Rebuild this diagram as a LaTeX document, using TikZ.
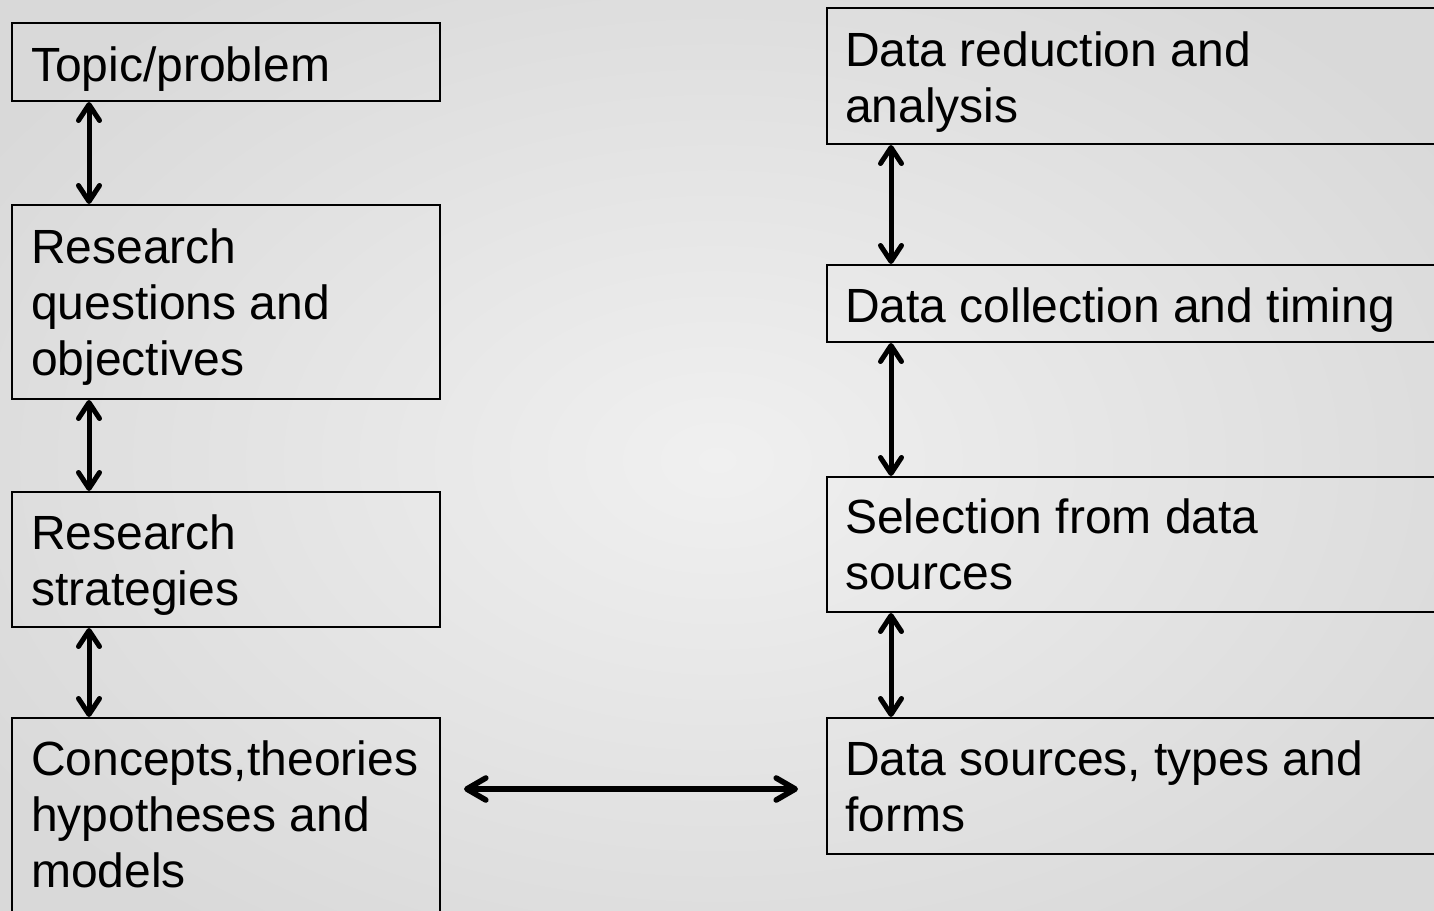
\documentclass[tikz,border=0pt]{standalone}
\usepackage{fontspec}
\setmainfont{Liberation Sans}
\usetikzlibrary{arrows.meta}
\definecolor{bgin}{HTML}{F0F0F0}
\definecolor{bgout}{HTML}{D9D9D9}
\tikzset{
  vtip/.tip={Straight Barb[length=16pt,width=21pt,line cap=round,line join=round]},
  htip/.tip={Straight Barb[length=19pt,width=22pt,line cap=round,line join=round]}
}
\begin{document}
\begin{tikzpicture}[x=1pt,y=-1pt,
  box/.style={draw=black, line width=2.8pt, anchor=north west, inner sep=0pt, outer sep=0pt},
  lbox/.style={box, minimum width=428pt},
  rbox/.style={box, minimum width=640pt},
  lbl/.style={anchor=base west, inner sep=0pt, align=left, font=\fontsize{48}{56}\selectfont},
  varr/.style={line width=5pt, line cap=round, vtip-vtip},
  harr/.style={line width=5.6pt, line cap=round, htip-htip}]
\useasboundingbox (0,0) rectangle (1434,910);
\clip (0,0) rectangle (1434,910);
\shade[inner color=bgin, outer color=bgout] (-150,-120) rectangle (1584,1040);
% left column
\node[lbox, minimum height=78pt] (t1) at (12,23) {};
\node[lbox, minimum height=194pt] (t2) at (12,205) {};
\node[lbox, minimum height=135pt] (t3) at (12,492) {};
\node[lbox, minimum height=240pt] (t4) at (12,718) {};
% right column
\node[rbox, minimum height=136pt] (r1) at (827,8) {};
\node[rbox, minimum height=77pt] (r2) at (827,265) {};
\node[rbox, minimum height=135pt] (r3) at (827,477) {};
\node[rbox, minimum height=136pt] (r4) at (827,718) {};
% labels (anchored at the baseline of the last line)
\node[lbl] (t1l) at (31,81) {Topic/problem};
\node[lbl] (t2l) at (31,375) {Research\\questions and\\objectives};
\node[lbl] (t3l) at (31,605) {Research\\strategies};
\node[lbl] (t4l) at (31,887) {Concepts,theories\\hypotheses and\\models};
\node[lbl] (r1l) at (845,122) {Data reduction and\\analysis};
\node[lbl] (r2l) at (845,322) {Data collection and timing};
\node[lbl] (r3l) at (845,589) {Selection from data\\sources};
\node[lbl] (r4l) at (845,831) {Data sources, types and\\forms};
% connectors
\draw[varr] ([xshift=77pt,yshift=-1pt]t1.south west) -- ([xshift=77pt,yshift=1pt]t2.north west);
\draw[varr] ([xshift=77pt,yshift=-1pt]t2.south west) -- ([xshift=77pt,yshift=1pt]t3.north west);
\draw[varr] ([xshift=77pt,yshift=-1pt]t3.south west) -- ([xshift=77pt,yshift=1pt]t4.north west);
\draw[varr] ([xshift=64pt,yshift=-1pt]r1.south west) -- ([xshift=64pt,yshift=1pt]r2.north west);
\draw[varr] ([xshift=64pt,yshift=-1pt]r2.south west) -- ([xshift=64pt,yshift=1pt]r3.north west);
\draw[varr] ([xshift=64pt,yshift=-1pt]r3.south west) -- ([xshift=64pt,yshift=1pt]r4.north west);
\draw[harr] ([xshift=24pt,yshift=-71pt]t4.north east) -- ([xshift=-29pt,yshift=-71pt]r4.north west);
\end{tikzpicture}
\end{document}
